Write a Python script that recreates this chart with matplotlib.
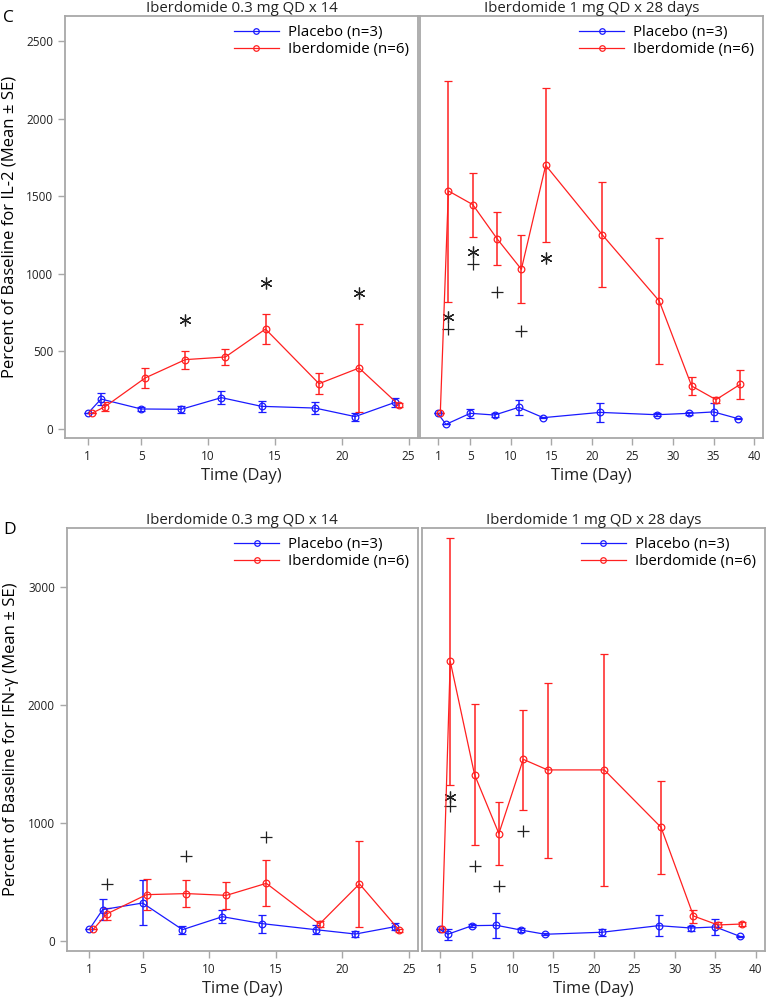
import numpy as np
import matplotlib.pyplot as plt
from matplotlib.lines import Line2D

plt.rcParams['font.family'] = ['Open Sans', 'DejaVu Sans']

# visit days (iberdomide arm drawn nudged right like in the original)
days_14 = [1, 2, 5, 8, 11, 14, 18, 21, 24]
days_28 = [1, 2, 5, 8, 11, 14, 21, 28, 32, 35, 38]
shift = 0.3

# IL-2, 0.3 mg QD x 14
il2_14_pbo = [100, 193, 129, 127, 202, 146, 135, 80, 172]
il2_14_pbo_lo = [100, 155, 115, 105, 159, 112, 97, 54, 144]
il2_14_pbo_hi = [100, 234, 140, 150, 247, 180, 174, 105, 198]
il2_14_ibd = [101, 144, 329, 447, 464, 644, 292, 393, 153]
il2_14_ibd_lo = [101, 118, 262, 389, 410, 550, 223, 110, 140]
il2_14_ibd_hi = [101, 176, 395, 505, 515, 741, 361, 677, 166]

# IL-2, 1 mg QD x 28 days
il2_28_pbo = [100, 30, 101, 90, 140, 73, 107, 92, 101, 110, 67]
il2_28_pbo_lo = [100, 30, 71, 80, 90, 68, 47, 85, 92, 54, 62]
il2_28_pbo_hi = [100, 30, 131, 100, 187, 78, 168, 100, 110, 165, 72]
il2_28_ibd = [100, 1534, 1446, 1226, 1029, 1699, 1250, 825, 277, 189, 288]
il2_28_ibd_lo = [100, 818, 1237, 1055, 810, 1203, 913, 419, 217, 165, 195]
il2_28_ibd_hi = [100, 2245, 1652, 1396, 1248, 2195, 1590, 1231, 337, 208, 382]

# IFN-gamma, 0.3 mg QD x 14
ifn_14_pbo = [99, 266, 322, 96, 206, 147, 96, 59, 122]
ifn_14_pbo_lo = [99, 178, 136, 57, 156, 71, 57, 31, 93]
ifn_14_pbo_hi = [99, 359, 518, 127, 263, 223, 136, 88, 150]
ifn_14_ibd = [99, 229, 393, 402, 387, 489, 144, 484, 90]
ifn_14_ibd_lo = [99, 178, 263, 291, 274, 294, 122, 122, 75]
ifn_14_ibd_hi = [99, 280, 526, 518, 498, 687, 167, 848, 105]

# IFN-gamma, 1 mg QD x 28 days
ifn_28_pbo = [99, 57, 130, 133, 93, 57, 74, 130, 110, 119, 40]
ifn_28_pbo_lo = [99, 8, 120, 25, 80, 50, 45, 42, 88, 48, 35]
ifn_28_pbo_hi = [99, 99, 140, 240, 106, 64, 99, 221, 130, 184, 45]
ifn_28_ibd = [99, 2373, 1411, 911, 1541, 1451, 1451, 964, 212, 136, 144]
ifn_28_ibd_lo = [99, 1321, 817, 642, 1111, 707, 464, 571, 150, 116, 130]
ifn_28_ibd_hi = [99, 3422, 2011, 1176, 1963, 2192, 2438, 1360, 266, 158, 158]

# significance symbols: (day, value, symbol)
il2_14_marks = [(8.3, 702, '*'), (14.3, 939, '*'), (21.3, 874, '*')]
il2_28_marks = [(2.3, 720, '*'), (2.3, 642, '+'), (5.3, 1138, '*'), (5.3, 1063, '+'),
                (8.3, 881, '+'), (11.3, 634, '+'), (14.3, 1104, '*')]
ifn_14_marks = [(2.3, 481, '+'), (8.3, 718, '+'), (14.3, 885, '+')]
ifn_28_marks = [(2.3, 1225, '*'), (2.3, 1148, '+'), (5.3, 639, '+'),
                (8.3, 464, '+'), (11.3, 936, '+')]

titles = ['Iberdomide 0.3 mg QD x 14', 'Iberdomide 1 mg QD x 28 days']
ticks_14 = [1, 5, 10, 15, 20, 25]
ticks_28 = [1, 5, 10, 15, 20, 25, 30, 35, 40]
yticks_il2 = [0, 500, 1000, 1500, 2000, 2500]
yticks_ifn = [0, 1000, 2000, 3000]

BLUE = '#1a1aff'
RED = '#ff2020'
GRAY = '#a8a8a8'

fig = plt.figure(figsize=(7.67, 10), dpi=100)


def series(ax, days, mean, lo, hi, color):
    mean = np.array(mean)
    err = [mean - np.array(lo), np.array(hi) - mean]
    ax.errorbar(days, mean, yerr=err, color=color, lw=0.9, elinewidth=1.1,
                capsize=3.2, capthick=1.1, marker='o', ms=4.8, mfc='none',
                mec=color, mew=0.9)


def marks(ax, pts):
    for d, v, s in pts:
        if s == '*':
            ax.plot(d, v, marker=(6, 2, 0), ms=8.5, color='#222222', mew=0.9, ls='none')
        else:
            ax.plot(d, v, marker='+', ms=8, color='#222222', mew=0.9, ls='none')


def style(ax, xlim, ylim, xticks, yticks, title, show_y):
    ax.set_xlim(xlim)
    ax.set_ylim(ylim)
    ax.set_xticks(xticks)
    ax.set_yticks(yticks)
    for s in ax.spines.values():
        s.set_color(GRAY)
        s.set_linewidth(1.3)
    ax.tick_params(colors=GRAY, labelcolor='#222222', labelsize=8.5, length=5, width=1)
    if not show_y:
        ax.tick_params(axis='y', left=False, labelleft=False)
    ax.set_title(title, fontsize=10.8, pad=2, color='#222222')
    ax.set_xlabel('Time (Day)', fontsize=11.8, labelpad=4, color='#222222')
    handles = [
        Line2D([], [], color=BLUE, lw=0.9, marker='o', ms=4, mfc='none', mew=0.9),
        Line2D([], [], color=RED, lw=0.9, marker='o', ms=4, mfc='none', mew=0.9),
    ]
    ax.legend(handles, ['Placebo (n=3)', 'Iberdomide (n=6)'], loc='upper right',
              frameon=False, fontsize=10.8, handlelength=3, borderaxespad=0.2,
              labelspacing=0.15, handletextpad=0.6)


panels = [
    ([0.0847, 0.562, 0.4602, 0.422], days_14, il2_14_pbo, il2_14_pbo_lo, il2_14_pbo_hi,
     il2_14_ibd, il2_14_ibd_lo, il2_14_ibd_hi, il2_14_marks, (-0.7, 25.7), (-58, 2661),
     ticks_14, yticks_il2, titles[0], True),
    ([0.5476, 0.562, 0.4472, 0.422], days_28, il2_28_pbo, il2_28_pbo_lo, il2_28_pbo_hi,
     il2_28_ibd, il2_28_ibd_lo, il2_28_ibd_hi, il2_28_marks, (-1.2, 41.1), (-58, 2661),
     ticks_28, yticks_il2, titles[1], False),
    ([0.0870, 0.049, 0.4580, 0.423], days_14, ifn_14_pbo, ifn_14_pbo_lo, ifn_14_pbo_hi,
     ifn_14_ibd, ifn_14_ibd_lo, ifn_14_ibd_hi, ifn_14_marks, (-0.7, 25.7), (-85, 3503),
     ticks_14, yticks_ifn, titles[0], True),
    ([0.5500, 0.049, 0.4472, 0.423], days_28, ifn_28_pbo, ifn_28_pbo_lo, ifn_28_pbo_hi,
     ifn_28_ibd, ifn_28_ibd_lo, ifn_28_ibd_hi, ifn_28_marks, (-1.2, 41.1), (-85, 3503),
     ticks_28, yticks_ifn, titles[1], False),
]

axes = []
for (rect, days, p, plo, phi, b, blo, bhi, mk, xl, yl, tk, ytk, ttl, showy) in panels:
    ax = fig.add_axes(rect)
    series(ax, days, p, plo, phi, BLUE)
    series(ax, [d + shift for d in days], b, blo, bhi, RED)
    marks(ax, mk)
    style(ax, xl, yl, tk, ytk, ttl, showy)
    axes.append(ax)

axes[0].set_ylabel('Percent of Baseline for IL-2 (Mean \u00b1 SE)', fontsize=12, labelpad=6)
axes[2].set_ylabel('Percent of Baseline for IFN-\u03b3 (Mean \u00b1 SE)', fontsize=12, labelpad=6)

fig.text(0.004, 0.99, 'C', fontsize=12.5, va='top', ha='left')
fig.text(0.004, 0.478, 'D', fontsize=12.5, va='top', ha='left')

fig.savefig('out.png', dpi=100)
